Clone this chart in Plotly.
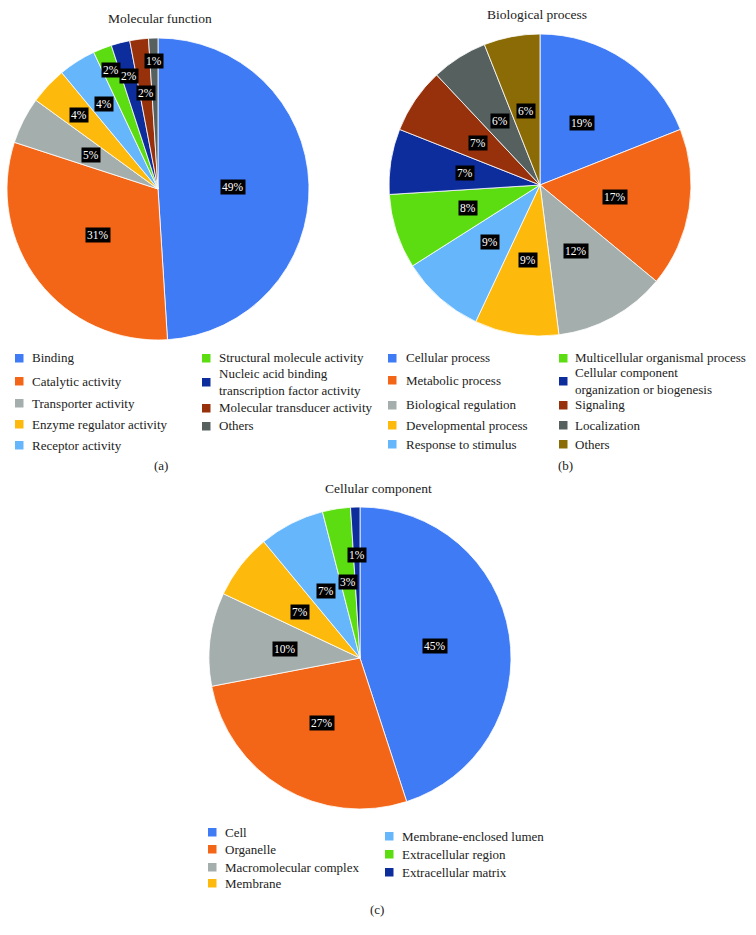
import math
import plotly.graph_objects as go

W, H = 756, 935

# ---------------- data ----------------
mf_labels = ["Binding", "Catalytic activity", "Transporter activity", "Enzyme regulator activity",
             "Receptor activity", "Structural molecule activity",
             "Nucleic acid binding<br>transcription factor activity",
             "Molecular transducer activity", "Others"]
mf_values = [49, 31, 5, 4, 4, 2, 2, 2, 1]

bp_labels = ["Cellular process", "Metabolic process", "Biological regulation", "Developmental process",
             "Response to stimulus", "Multicellular organismal process",
             "Cellular component<br>organization or biogenesis", "Signaling", "Localization", "Others"]
bp_values = [19, 17, 12, 9, 9, 8, 7, 7, 6, 6]

cc_labels = ["Cell", "Organelle", "Macromolecular complex", "Membrane",
             "Membrane-enclosed lumen", "Extracellular region", "Extracellular matrix"]
cc_values = [45, 27, 10, 7, 7, 3, 1]

# ---------------- style ----------------
BLUE, ORANGE, GRAY, YELLOW = "#3E7BF5", "#F46617", "#A4AEAD", "#FDBA0C"
LBLUE, GREEN, NAVY, RUST, SLATE, OLIVE = "#65B6FA", "#5BDD12", "#0E2D9C", "#97310C", "#55605F", "#8B6B05"

mf_colors = [BLUE, ORANGE, GRAY, YELLOW, LBLUE, GREEN, NAVY, RUST, SLATE]
bp_colors = [BLUE, ORANGE, GRAY, YELLOW, LBLUE, GREEN, NAVY, RUST, SLATE, OLIVE]
cc_colors = [BLUE, ORANGE, GRAY, YELLOW, LBLUE, GREEN, NAVY]

FONT = "Liberation Serif, DejaVu Serif, serif"

# pie geometry (pixels): center x, center y, radius
pies = [
    dict(values=mf_values, labels=mf_labels, colors=mf_colors, cx=158, cy=189, r=151,
         lab_r=[0.5, 0.5, 0.5, 0.72, 0.67, 0.85, 0.77, 0.64, 0.85],
         title="Molecular function", tx=160, ty=18, sub="(a)", sx=161, sy=465),
    dict(values=bp_values, labels=bp_labels, colors=bp_colors, cx=540, cy=185, r=151,
         lab_r=[0.5] * 10,
         title="Biological process", tx=537, ty=14, sub="(b)", sx=565, sy=465),
    dict(values=cc_values, labels=cc_labels, colors=cc_colors, cx=360, cy=658, r=151,
         lab_r=[0.5, 0.5, 0.5, 0.5, 0.5, 0.51, 0.68],
         title="Cellular component", tx=378, ty=489, sub="(c)", sx=377, sy=909),
]

# legend layout: (square x, text x, [row y ...]) per column
legends = [
    [(15, 30, [358, 381, 403, 424, 445]), (202, 217, [358, 382, 408, 426])],
    [(388, 404, [358, 380, 405, 425, 444]), (559, 573, [358, 381, 405, 425, 444])],
    [(208, 223, [832, 849, 867, 883]), (385, 400, [836, 854, 872])],
]


def px(x):
    return x / W


def py(y):
    return 1 - y / H


fig = go.Figure()
annotations = []
shapes = []

for p, leg in zip(pies, legends):
    cx, cy, r = p["cx"], p["cy"], p["r"]
    fig.add_trace(go.Pie(
        values=p["values"], labels=p["labels"], sort=False, direction="clockwise", rotation=0,
        marker=dict(colors=p["colors"], line=dict(color="white", width=0.8)),
        textinfo="none", hoverinfo="label+percent", showlegend=False,
        domain=dict(x=[px(cx - r), px(cx + r)], y=[py(cy + r), py(cy - r)]),
    ))
    total = sum(p["values"])
    cum = 0
    for v, fr in zip(p["values"], p["lab_r"]):
        mid = (cum + v / 2) / total * 2 * math.pi
        cum += v
        lx = cx + fr * r * math.sin(mid)
        ly = cy - fr * r * math.cos(mid)
        annotations.append(dict(
            x=px(lx), y=py(ly), xref="paper", yref="paper", text=f"{v}%", showarrow=False,
            font=dict(family=FONT, size=11.5, color="white"), bgcolor="black", borderpad=1,
            xanchor="center", yanchor="middle"))
    annotations.append(dict(x=px(p["tx"]), y=py(p["ty"]), xref="paper", yref="paper", text=p["title"],
                            showarrow=False, font=dict(family=FONT, size=13.5, color="#222"),
                            xanchor="center", yanchor="middle"))
    annotations.append(dict(x=px(p["sx"]), y=py(p["sy"]), xref="paper", yref="paper", text=p["sub"],
                            showarrow=False, font=dict(family=FONT, size=13, color="#222"),
                            xanchor="center", yanchor="middle"))
    # legend
    idx = 0
    for sqx, txx, rows in leg:
        for ry in rows:
            lab = p["labels"][idx]
            col = p["colors"][idx]
            idx += 1
            shapes.append(dict(type="rect", xref="paper", yref="paper",
                               x0=px(sqx), x1=px(sqx + 8.5), y0=py(ry + 4.5), y1=py(ry - 4),
                               fillcolor=col, line=dict(width=0)))
            annotations.append(dict(x=px(txx), y=py(ry), xref="paper", yref="paper", text=lab,
                                    showarrow=False, align="left",
                                    font=dict(family=FONT, size=13, color="#222"),
                                    xanchor="left", yanchor="middle"))

fig.update_layout(
    width=W, height=H, margin=dict(l=0, r=0, t=0, b=0),
    paper_bgcolor="white", plot_bgcolor="white",
    font=dict(family=FONT),
    annotations=annotations, shapes=shapes, showlegend=False,
)

fig.write_html("out.html", config={"displayModeBar": False},
               post_script="document.body.style.margin='0';document.body.style.padding='0';")
